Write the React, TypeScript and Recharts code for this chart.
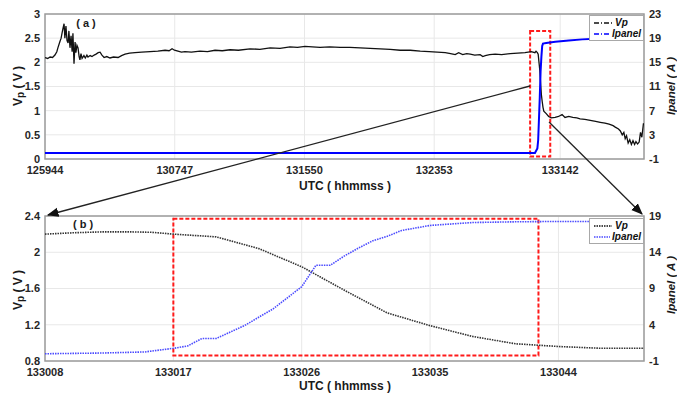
import { CartesianGrid, Legend, Line, LineChart, ReferenceArea, XAxis, YAxis } from "recharts";

const FONT = '"Liberation Sans", Arial, sans-serif';

// panel (a): seconds after 12:59:44 UTC
const timeVpA = [
  0, 10, 19, 28, 37, 44, 48, 55, 60, 64, 67, 71, 74, 78, 82, 86, 89, 93, 97, 101, 104, 108, 112, 115, 119,
  123, 127, 130, 134, 138, 145, 150, 156, 160, 168, 175, 183, 190, 198, 205, 212, 220, 230, 242, 255, 272,
  285, 298, 315, 335, 360, 391, 420, 447, 462, 473, 482, 495, 508, 521, 545, 577, 605, 633, 660, 689, 720,
  763, 800, 838, 875, 912, 940, 968, 995, 1024, 1060, 1099, 1135, 1173, 1210, 1248, 1285, 1322, 1360, 1397,
  1430, 1460, 1490, 1510, 1527, 1540, 1555, 1570, 1583, 1600, 1620, 1630, 1639, 1655, 1676, 1700, 1732,
  1760, 1787, 1810, 1824, 1828, 1833, 1836, 1840, 1842, 1845, 1848, 1851, 1854, 1857, 1866, 1875, 1885,
  1899, 1912, 1925, 1936, 1950, 1965, 1980, 1992, 2010, 2030, 2050, 2067, 2085, 2100, 2115, 2123, 2135,
  2142, 2149, 2155, 2160, 2165, 2171, 2177, 2183, 2189, 2195, 2200, 2206, 2212, 2217, 2222, 2228,
];
const vpA = [
  2.1, 2.08, 2.11, 2.1, 2.15, 2.22, 2.3, 2.42, 2.5, 2.62, 2.7, 2.8, 2.5, 2.75, 2.45, 2.4, 2.65, 2.3, 2.55, 2.22,
  2.6, 1.97, 2.42, 2.2, 2.35, 2.3, 2.12, 2.05, 2.18, 2.08, 2.14, 2.09, 2.15, 2.11, 2.14, 2.12, 2.15, 2.17, 2.2,
  2.21, 2.15, 2.1, 2.12, 2.09, 2.11, 2.1, 2.14, 2.17, 2.19, 2.2, 2.21, 2.22, 2.23, 2.25, 2.24, 2.28, 2.25, 2.23,
  2.21, 2.22, 2.21, 2.23, 2.22, 2.25, 2.24, 2.26, 2.25, 2.28, 2.27, 2.3, 2.29, 2.32, 2.31, 2.33, 2.32, 2.31,
  2.32, 2.31, 2.31, 2.3, 2.29, 2.28, 2.27, 2.25, 2.25, 2.23, 2.22, 2.21, 2.2, 2.18, 2.16, 2.2, 2.16, 2.18, 2.17,
  2.15, 2.16, 2.12, 2.14, 2.16, 2.17, 2.16, 2.18, 2.19, 2.2, 2.22, 2.2, 2.23, 2.2, 2.17, 1.95, 1.84, 1.58, 1.33,
  1.19, 1.07, 0.99, 0.94, 0.88, 0.85, 0.86, 0.88, 0.92, 0.86, 0.88, 0.86, 0.85, 0.83, 0.82, 0.8, 0.78, 0.76,
  0.74, 0.72, 0.69, 0.66, 0.62, 0.58, 0.5, 0.55, 0.42, 0.48, 0.33, 0.4, 0.3, 0.38, 0.3, 0.36, 0.31, 0.35, 0.55,
  0.45, 0.74,
];
const timeIA = [0, 1824, 1833, 1836, 1842, 1845, 1848, 1851, 1854, 1866, 1900, 1950, 2000, 2050, 2100, 2150, 2200, 2230];
const ipanelA = [0, 0, 0.75, 2.1, 9.2, 13.5, 15.9, 17.7, 18.1, 18.2, 18.4, 18.6, 18.8, 18.9, 19.1, 19.3, 19.8, 20.4];
const xTicksA = [0, 483, 966, 1449, 1918];
const xLabelsA = ["125944", "130747", "131550", "132353", "133142"];
const vTicksA = [0, 0.5, 1, 1.5, 2, 2.5, 3];
const iTicksA = [-1, 3, 7, 11, 15, 19, 23];

// panel (b): seconds after 13:30:08 UTC
const timeVpB = [0, 2, 4, 6, 7.5, 9, 12, 15, 18, 21, 24, 27, 30, 33, 36, 39, 42];
const vpB = [2.2, 2.215, 2.225, 2.225, 2.22, 2.2, 2.17, 2.04, 1.84, 1.58, 1.33, 1.19, 1.07, 0.99, 0.96, 0.94, 0.94];
const timeIB = [0, 2, 4, 7, 9, 10, 11, 12, 14, 16, 18, 19, 20, 21, 22, 23, 24, 25, 27, 30, 33, 36, 39, 42];
const ipanelB = [
  0, 0.05, 0.1, 0.25, 0.75, 1.07, 2.1, 2.1, 3.9, 6.2, 9.25, 12.2, 12.2, 13.5, 14.6, 15.6, 16.2, 17.0, 17.7, 18.1,
  18.2, 18.25, 18.25, 18.25,
];
const xTicksB = [0, 9, 18, 27, 36];
const xLabelsB = ["133008", "133017", "133026", "133035", "133044"];
const vTicksB = [0.8, 1.2, 1.6, 2, 2.4];
const iTicksB = [-1, 4, 9, 14, 19];

const tickStyle = { fill: "#262626", fontSize: 11, fontWeight: "bold", fontFamily: FONT };

function toPoints(ts: number[], vs: number[], key: string) {
  return ts.map((t, i) => ({ t, [key]: vs[i] }));
}

function LegendBox({ dash, blue }: { dash: string; blue: string }) {
  const items = [
    { name: "Vp", color: "#111" },
    { name: "Ipanel", color: blue },
  ];
  return (
    <div
      style={{
        border: "1px solid #a8a8a8",
        background: "#fff",
        padding: "1px 2px 1px 3px",
        fontFamily: FONT,
        fontSize: 10,
        fontWeight: "bold",
        fontStyle: "italic",
        lineHeight: "11px",
        color: "#111",
      }}
    >
      {items.map((it) => (
        <div key={it.name} style={{ display: "flex", alignItems: "center" }}>
          <svg width={20} height={10}>
            <line x1={1} y1={5} x2={19} y2={5} stroke={it.color} strokeWidth={1.5} strokeDasharray={dash} />
          </svg>
          <span style={{ marginLeft: 2 }}>{it.name}</span>
        </div>
      ))}
    </div>
  );
}

function Panel(props: {
  height: number;
  top: number;
  bottom: number;
  xMax: number;
  xTicks: number[];
  xLabels: string[];
  vDomain: [number, number];
  vTicks: number[];
  iDomain: [number, number];
  iTicks: number[];
  vp: { t: number; v: number }[];
  ip: { t: number; i: number }[];
  box: [number, number, number, number];
  dotted: boolean;
  legendTop: number;
}) {
  const blue = props.dotted ? "#4b4bff" : "#0000ff";
  const dash = props.dotted ? "1.5 1" : undefined;
  return (
    <LineChart width={677} height={props.height} margin={{ top: props.top, right: 0, bottom: props.bottom, left: 0 }}>
      <CartesianGrid stroke="#e8e8e8" yAxisId="v" />
      <XAxis
        type="number"
        dataKey="t"
        domain={[0, props.xMax]}
        ticks={props.xTicks}
        interval={0}
        allowDataOverflow
        height={30}
        tickFormatter={(v: number) => props.xLabels[props.xTicks.indexOf(v)]}
        tick={tickStyle}
        tickLine={false}
        tickSize={0}
        tickMargin={7}
        axisLine={false}
      />
      <YAxis
        yAxisId="v"
        domain={props.vDomain}
        ticks={props.vTicks}
        interval={0}
        allowDataOverflow
        width={45}
        tick={tickStyle}
        tickLine={false}
        tickSize={0}
        tickMargin={5}
        axisLine={false}
      />
      <YAxis
        yAxisId="i"
        orientation="right"
        domain={props.iDomain}
        ticks={props.iTicks}
        interval={0}
        allowDataOverflow
        width={33}
        tick={tickStyle}
        tickLine={false}
        tickSize={0}
        tickMargin={5}
        axisLine={false}
      />
      <ReferenceArea
        yAxisId="v"
        x1={0}
        x2={props.xMax}
        y1={props.vDomain[0]}
        y2={props.vDomain[1]}
        fill="none"
        stroke="#9c9c9c"
        strokeWidth={1.5}
      />
      <Line
        data={props.vp}
        dataKey="v"
        yAxisId="v"
        stroke={props.dotted ? "#333" : "#111"}
        strokeWidth={props.dotted ? 1.6 : 1.3}
        strokeDasharray={dash}
        dot={false}
        isAnimationActive={false}
      />
      <Line
        data={props.ip}
        dataKey="i"
        yAxisId="i"
        stroke={blue}
        strokeWidth={props.dotted ? 1.6 : 2}
        strokeDasharray={dash}
        dot={false}
        isAnimationActive={false}
      />
      <ReferenceArea
        yAxisId="v"
        x1={props.box[0]}
        x2={props.box[1]}
        y1={props.box[2]}
        y2={props.box[3]}
        fill="none"
        stroke="#ff1a1a"
        strokeWidth={2}
        strokeDasharray="4 2"
      />
      <Legend
        layout="vertical"
        align="center"
        verticalAlign="middle"
        wrapperStyle={{ top: props.legendTop, left: 589, width: 55, height: 24 }}
        content={() => <LegendBox dash={props.dotted ? "1.5 1" : "5 2 1 2"} blue={blue} />}
      />
    </LineChart>
  );
}

export default function App() {
  const titleStyle = { fontFamily: FONT, fontSize: 12, fontWeight: "bold" as const, fill: "#1a1a1a" };
  return (
    <div style={{ position: "absolute", left: 0, top: 0, width: 677, height: 393, background: "#fff", fontFamily: FONT }}>
      <div style={{ position: "absolute", left: 0, top: 0 }}>
        <Panel
          height={200}
          top={14}
          bottom={11}
          xMax={2230}
          xTicks={xTicksA}
          xLabels={xLabelsA}
          vDomain={[0, 3]}
          vTicks={vTicksA}
          iDomain={[-1, 23]}
          iTicks={iTicksA}
          vp={toPoints(timeVpA, vpA, "v") as { t: number; v: number }[]}
          ip={toPoints(timeIA, ipanelA, "i") as { t: number; i: number }[]}
          box={[1806, 1881, 0.05, 2.65]}
          dotted={false}
          legendTop={15}
        />
      </div>
      <div style={{ position: "absolute", left: 0, top: 200 }}>
        <Panel
          height={193}
          top={16}
          bottom={2}
          xMax={42}
          xTicks={xTicksB}
          xLabels={xLabelsB}
          vDomain={[0.8, 2.4]}
          vTicks={vTicksB}
          iDomain={[-1, 19]}
          iTicks={iTicksB}
          vp={toPoints(timeVpB, vpB, "v") as { t: number; v: number }[]}
          ip={toPoints(timeIB, ipanelB, "i") as { t: number; i: number }[]}
          box={[9, 34.6, 0.86, 2.37]}
          dotted={true}
          legendTop={18}
        />
      </div>
      <svg width={677} height={393} style={{ position: "absolute", left: 0, top: 0, pointerEvents: "none" }}>
        <defs>
          <marker id="head" viewBox="0 0 10 10" refX="9" refY="5" markerWidth="9" markerHeight="9" orient="auto">
            <path d="M0,1 L10,5 L0,9 z" fill="#111" />
          </marker>
        </defs>
        <line x1={530} y1={86} x2={48} y2={215} stroke="#222" strokeWidth={1.3} markerEnd="url(#head)" />
        <line x1={549} y1={122} x2={642} y2={214} stroke="#222" strokeWidth={1.3} markerEnd="url(#head)" />
        <text x={86} y={27} textAnchor="middle" {...titleStyle} fontSize={11}>( a )</text>
        <text x={83} y={228} textAnchor="middle" {...titleStyle} fontSize={11}>( b )</text>
        <text x={345} y={190} textAnchor="middle" {...titleStyle}>UTC ( hhmmss )</text>
        <text x={345} y={390} textAnchor="middle" {...titleStyle}>UTC ( hhmmss )</text>
        <text transform="translate(22,86) rotate(-90)" textAnchor="middle" {...titleStyle}>
          V<tspan fontSize={10} dy={2}>p</tspan>
          <tspan dy={-2}> ( V )</tspan>
        </text>
        <text transform="translate(22,290) rotate(-90)" textAnchor="middle" {...titleStyle}>
          V<tspan fontSize={10} dy={2}>p</tspan>
          <tspan dy={-2}> ( V )</tspan>
        </text>
        <text transform="translate(675,86) rotate(-90)" textAnchor="middle" {...titleStyle} fontSize={11.5} fontStyle="italic">
          Ipanel ( A )
        </text>
        <text transform="translate(675,285) rotate(-90)" textAnchor="middle" {...titleStyle} fontSize={11.5} fontStyle="italic">
          Ipanel ( A )
        </text>
      </svg>
    </div>
  );
}
